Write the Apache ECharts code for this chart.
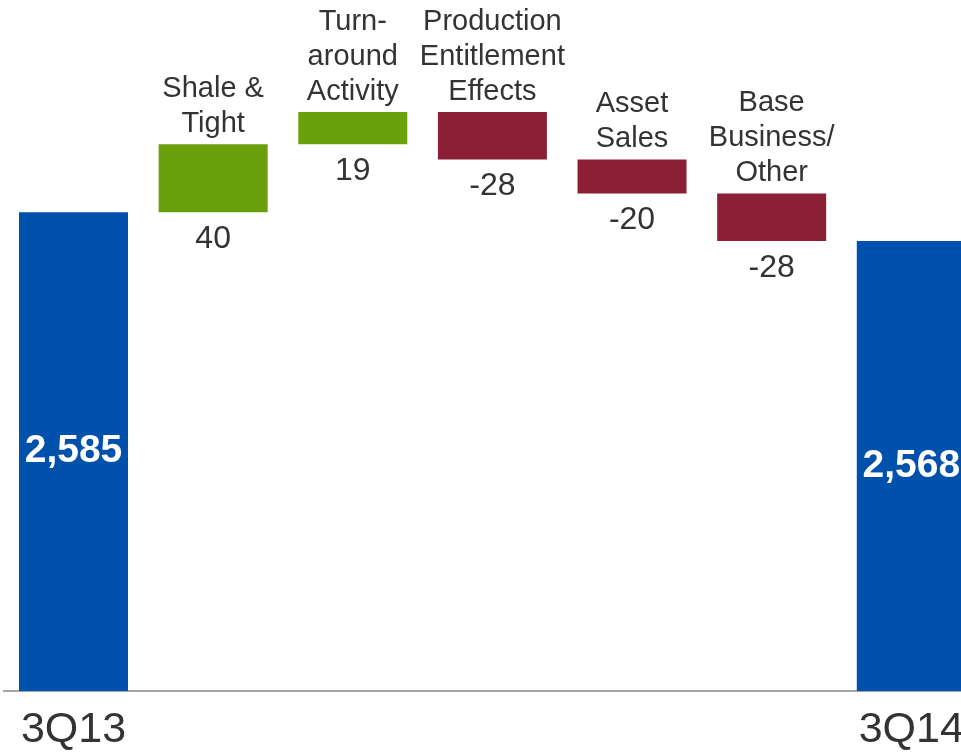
<!DOCTYPE html>
<html>
<head>
<meta charset="utf-8">
<script src="https://cdn.jsdelivr.net/npm/echarts@6/dist/echarts.min.js"></script>
<style>
html,body{margin:0;padding:0;background:#fff;overflow:hidden;width:961px;height:752px;}
#c{width:985px;height:752px;}
</style>
</head>
<body>
<div id="c"></div>
<script>
// Data
const categories = ['3Q13', 'Shale &\nTight', 'Turn-\naround\nActivity', 'Production\nEntitlement\nEffects', 'Asset\nSales', 'Base\nBusiness/\nOther', '3Q14'];
const startTotal = 2585;
const deltas = [40, 19, -28, -20, -28];
const endTotal = 2568;
const axisLabels = ['3Q13', '', '', '', '', '', '3Q14'];

const BLUE = '#0051AB', GREEN = '#6BA00D', RED = '#8A1F35', TEXT = '#333333';

// Build waterfall stacks
const baseData = [];
const barData = [];
baseData.push({ value: 0 });
barData.push({
  value: startTotal,
  itemStyle: { color: BLUE },
  label: { show: true, position: 'inside', formatter: () => startTotal.toLocaleString('en-US'),
           color: '#fff', fontWeight: 'bold', fontSize: 39 }
});
let running = startTotal;
deltas.forEach((d, i) => {
  const next = running + d;
  const low = Math.min(running, next);
  const high = Math.max(running, next);
  baseData.push({
    value: low,
    label: { show: true, position: 'insideTop', distance: 10, formatter: () => String(d),
             color: TEXT, fontSize: 32, lineHeight: 34 }
  });
  barData.push({
    value: high - low,
    itemStyle: { color: d >= 0 ? GREEN : RED },
    label: { show: true, position: 'top', distance: 3, formatter: () => categories[i + 1],
             color: TEXT, fontSize: 29, lineHeight: 35 }
  });
  running = next;
});
baseData.push({ value: 0 });
barData.push({
  value: endTotal,
  itemStyle: { color: BLUE },
  label: { show: true, position: 'inside', formatter: () => endTotal.toLocaleString('en-US'),
           color: '#fff', fontWeight: 'bold', fontSize: 39 }
});

const chart = echarts.init(document.getElementById('c'), null, { renderer: 'canvas' });
chart.setOption({
  animation: false,
  backgroundColor: '#ffffff',
  textStyle: { fontFamily: '"Liberation Sans", Arial, sans-serif' },
  grid: { left: 3.7, top: 0, width: 977.4, height: 692, containLabel: false },
  xAxis: {
    type: 'category',
    data: categories,
    axisLine: { show: true, lineStyle: { color: '#A6A6A6', width: 2 } },
    axisTick: { show: false },
    axisLabel: {
      interval: 0, margin: 18, fontSize: 43, color: TEXT,
      fontFamily: '"Liberation Sans", Arial, sans-serif',
      formatter: (v, idx) => axisLabels[idx]
    }
  },
  yAxis: {
    type: 'value', min: 2303, max: 2710, show: false, splitLine: { show: false }
  },
  series: [
    {
      type: 'bar', stack: 'w', data: baseData, barWidth: 109,
      itemStyle: { color: 'rgba(0,0,0,0)' }, silent: true
    },
    {
      type: 'bar', stack: 'w', data: barData, barWidth: 109
    }
  ]
});
</script>
</body>
</html>
